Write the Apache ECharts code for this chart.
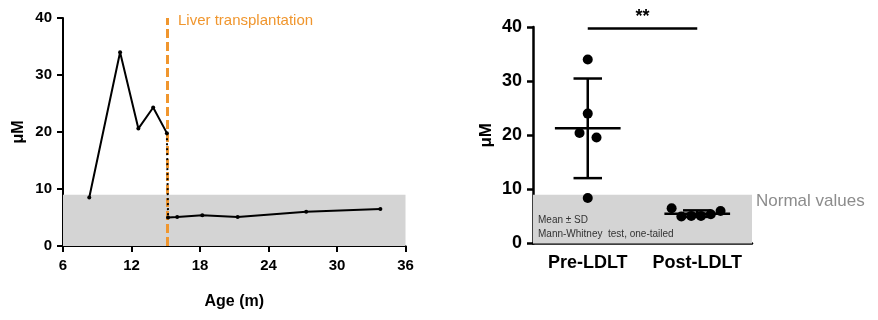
<!DOCTYPE html>
<html><head><meta charset="utf-8">
<script src="https://cdn.jsdelivr.net/npm/echarts@6/dist/echarts.min.js"></script>
<style>html,body{margin:0;padding:0;background:#fff}#c{width:878px;height:320px}</style>
</head><body><div id="c"></div>
<script>
// Left panel: time course
const preAges = [8.3, 11.0, 12.6, 13.9, 15.1];
const preValues = [8.5, 34.0, 20.6, 24.3, 19.8];
const postAges = [15.2, 16.0, 18.2, 21.3, 27.3, 33.8];
const postValues = [5.0, 5.1, 5.4, 5.1, 6.0, 6.5];
const transplantAge = 15.1;
const normalUpper = 9;
const ageTicks = [6, 12, 18, 24, 30, 36];
const valueTicks = [0, 10, 20, 30, 40];
// Right panel: group comparison
const groups = ['Pre-LDLT', 'Post-LDLT'];
const preGroup = [34.0, 24.0, 20.4, 19.6, 8.4];
const preJitter = [0, 0, -0.075, 0.08, 0];
const postGroup = [6.5, 5.0, 5.1, 5.1, 5.4, 6.0];
const postJitter = [-0.234, -0.145, -0.055, 0.034, 0.124, 0.213];

const FONT = 'Liberation Sans, Arial, sans-serif';
function stats(a){const m=a.reduce((s,v)=>s+v,0)/a.length;const sd=Math.sqrt(a.reduce((s,v)=>s+(v-m)*(v-m),0)/(a.length-1));return [m,sd];}
const groupStats = [stats(preGroup), stats(postGroup)];

const chart = echarts.init(document.getElementById('c'), null, {renderer:'canvas'});
const axisLine = {show:true, lineStyle:{color:'#000', width:2}};
const axisTick = {show:true, length:6, inside:false, lineStyle:{color:'#000', width:2}};

chart.setOption({
  backgroundColor:'#fff',
  animation:false,
  grid:[
    {left:63, top:18, width:342.5, height:228},
    {left:533, top:27, width:219, height:216.5}
  ],
  xAxis:[
    {gridIndex:0, type:'value', min:ageTicks[0], max:ageTicks[ageTicks.length-1], interval:6,
     axisLine, axisTick, splitLine:{show:false},
     axisLabel:{color:'#000', fontWeight:'bold', fontSize:15, fontFamily:FONT, margin:12},
     name:'Age (m)', nameLocation:'middle', nameGap:48,
     nameTextStyle:{color:'#000', fontWeight:'bold', fontSize:16, fontFamily:FONT}},
    {gridIndex:1, type:'value', min:0, max:2, interval:0.5,
     axisLine:{show:true, lineStyle:{color:'#000', width:2.5}}, axisTick:{show:false}, splitLine:{show:false},
     axisLabel:{color:'#000', fontWeight:'bold', fontSize:18, fontFamily:FONT, margin:11,
       formatter:v=>{const i=Math.round(v-0.5); return (Math.abs(v-0.5-i)<1e-6 && groups[i])?groups[i]:'';}}}
  ],
  yAxis:[
    {gridIndex:0, type:'value', min:valueTicks[0], max:valueTicks[valueTicks.length-1], interval:10,
     axisLine, axisTick, splitLine:{show:false},
     axisLabel:{color:'#000', fontWeight:'bold', fontSize:15, fontFamily:FONT, margin:11},
     name:'μM', nameLocation:'middle', nameRotate:90, nameGap:36,
     nameTextStyle:{color:'#000', fontWeight:'bold', fontSize:16, fontFamily:FONT}},
    {gridIndex:1, type:'value', min:0, max:40, interval:10,
     axisLine:{show:true, lineStyle:{color:'#000', width:2.5}}, axisTick:{show:true, length:6, lineStyle:{color:'#000', width:2.5}}, splitLine:{show:false},
     axisLabel:{color:'#000', fontWeight:'bold', fontSize:18, fontFamily:FONT, margin:11},
     name:'μM', nameLocation:'middle', nameRotate:90, nameGap:38,
     nameTextStyle:{color:'#000', fontWeight:'bold', fontSize:17, fontFamily:FONT}}
  ],
  series:[
    {type:'line', xAxisIndex:0, yAxisIndex:0, z:1, data:[], silent:true,
     markArea:{silent:true, itemStyle:{color:'#d4d4d4'}, data:[[{coord:[ageTicks[0],0]},{coord:[ageTicks[ageTicks.length-1],normalUpper]}]]},
     markLine:{silent:true, symbol:'none', label:{show:false},
       lineStyle:{color:'#f0962e', width:3, type:[9,4]}, data:[{xAxis:transplantAge}]}},
    {type:'line', xAxisIndex:0, yAxisIndex:0, z:5, symbol:'circle', symbolSize:4,
     itemStyle:{color:'#000'}, lineStyle:{color:'#000', width:2},
     data:preAges.map((a,i)=>[a,preValues[i]])},
    {type:'line', xAxisIndex:0, yAxisIndex:0, z:5, symbol:'none',
     lineStyle:{color:'#000', width:2, type:[2,3]},
     data:[[preAges[preAges.length-1],preValues[preValues.length-1]],[postAges[0],postValues[0]]]},
    {type:'line', xAxisIndex:0, yAxisIndex:0, z:5, symbol:'circle', symbolSize:4,
     itemStyle:{color:'#000'}, lineStyle:{color:'#000', width:2},
     data:postAges.map((a,i)=>[a,postValues[i]])},
    // right panel
    {type:'scatter', xAxisIndex:1, yAxisIndex:1, z:1, data:[], silent:true,
     markArea:{silent:true, itemStyle:{color:'#d4d4d4'}, data:[[{coord:[0,0]},{coord:[2,normalUpper]}]]},
     markLine:{silent:true, symbol:'none', lineStyle:{color:'#000', width:2.5, type:'solid'},
       label:{show:true, position:'middle', formatter:'**', color:'#000', fontWeight:'bold', fontSize:18, fontFamily:FONT, distance:2},
       data:[[{coord:[0.5,39.8]},{coord:[1.5,39.8]}]]}},
    {type:'custom', xAxisIndex:1, yAxisIndex:1, z:4,
     data:groupStats.map((s,i)=>[i+0.5,s[0],s[1]]),
     renderItem:(params,api)=>{
       const x=api.value(0), m=api.value(1), sd=api.value(2);
       const st={stroke:'#000', lineWidth:2.5};
       const L=(x1,y1,x2,y2)=>{const a=api.coord([x1,y1]), b=api.coord([x2,y2]); return {type:'line', shape:{x1:a[0],y1:a[1],x2:b[0],y2:b[1]}, style:st};};
       return {type:'group', children:[
         L(x-0.3,m,x+0.3,m),
         L(x,m-sd,x,m+sd),
         L(x-0.13,m+sd,x+0.13,m+sd),
         L(x-0.13,m-sd,x+0.13,m-sd)
       ]};
     }},
    {type:'scatter', xAxisIndex:1, yAxisIndex:1, z:5, symbolSize:10, itemStyle:{color:'#000', opacity:1},
     data:preGroup.map((v,i)=>[0.5+preJitter[i],v])},
    {type:'scatter', xAxisIndex:1, yAxisIndex:1, z:5, symbolSize:10, itemStyle:{color:'#000', opacity:1},
     data:postGroup.map((v,i)=>[1.5+postJitter[i],v])}
  ],
  graphic:[
    {type:'text', z:100, left:178, top:13, style:{text:'Liver transplantation', fill:'#f0962e', font:'15px '+FONT}},
    {type:'text', z:100, left:756, top:193, style:{text:'Normal values', fill:'#8c8c8c', font:'17px '+FONT}},
    {type:'text', z:100, left:538, top:215, style:{text:'Mean ± SD', fill:'#333', font:'10px '+FONT}},
    {type:'text', z:100, left:538, top:229, style:{text:'Mann-Whitney  test, one-tailed', fill:'#333', font:'10px '+FONT}}
  ]
});
</script></body></html>
